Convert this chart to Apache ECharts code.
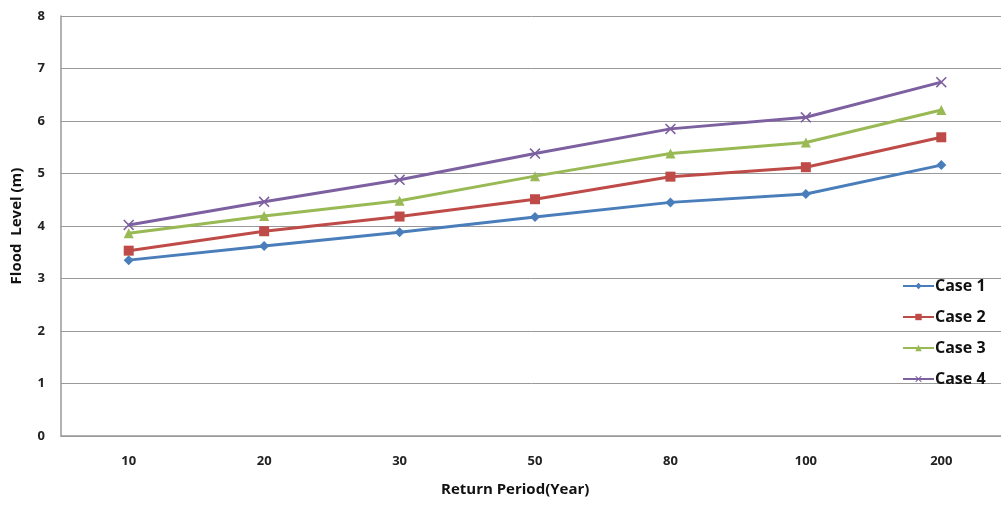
<!DOCTYPE html>
<html><head><meta charset="utf-8">
<script src="https://cdn.jsdelivr.net/npm/echarts@6/dist/echarts.min.js"></script>
<style>html,body{margin:0;padding:0;background:#fff}#c{width:1001px;height:505px}</style>
</head><body><div id="c"></div>
<script>
const categories = ['10','20','30','50','80','100','200'];
const case1 = [3.35, 3.62, 3.88, 4.17, 4.45, 4.61, 5.16];
const case2 = [3.53, 3.90, 4.18, 4.51, 4.94, 5.12, 5.69];
const case3 = [3.86, 4.19, 4.48, 4.95, 5.38, 5.59, 6.21];
const case4 = [4.02, 4.46, 4.88, 5.38, 5.85, 6.07, 6.74];
const seriesNames = ['Case 1','Case 2','Case 3','Case 4'];
const colors = ['#4A7EBB','#BE4B48','#98B954','#7D60A0'];
const FONT = '"Open Sans", Lato, sans-serif';
const xShape = 'path://M0,1L1,0L5,4L9,0L10,1L6,5L10,9L9,10L5,6L1,10L0,9L4,5Z';
const symbols = [['diamond',10],['rect',10],['triangle',10],[xShape,11]];
const data = [case1, case2, case3, case4];

const chart = echarts.init(document.getElementById('c'), null, {renderer:'canvas'});
chart.setOption({
  animation:false,
  grid:{left:61, top:16, width:948, height:420, containLabel:false, outerBoundsMode:'none'},
  xAxis:{type:'category', data:categories, boundaryGap:true,
    axisLine:{lineStyle:{color:'#999', width:1.5}}, axisTick:{show:false},
    axisLabel:{color:'#222', fontWeight:'bold', fontSize:13, fontFamily:FONT, margin:19},
    splitLine:{show:false}},
  yAxis:{type:'value', min:0, max:8, interval:1,
    axisLine:{show:true, lineStyle:{color:'#999', width:1.5}}, axisTick:{show:false},
    axisLabel:{color:'#222', fontWeight:'bold', fontSize:13, fontFamily:FONT, margin:16},
    splitLine:{lineStyle:{color:'#999', width:1}},
    name:'Flood  Level (m)', nameLocation:'middle', nameGap:37, nameRotate:90,
    nameTextStyle:{color:'#111', fontWeight:'bold', fontSize:15, fontFamily:FONT}},
  legend:{orient:'vertical', left:897, top:272, itemGap:13, itemWidth:31, itemHeight:8,
    textStyle:{color:'#111', fontWeight:'bold', fontSize:16, lineHeight:18, fontFamily:FONT, padding:[0,0,0,-4]},
    data:seriesNames},
  graphic:[{type:'text', left:441, top:482,
    style:{text:'Return Period(Year)', fill:'#111', font:'bold 15px '+FONT}}],
  series: data.map((d,i)=>({
    name:seriesNames[i], type:'line', data:d,
    symbol:symbols[i][0], symbolSize:symbols[i][1],
    lineStyle:{color:colors[i], width:3},
    itemStyle:{color:colors[i]}
  }))
});
</script></body></html>
